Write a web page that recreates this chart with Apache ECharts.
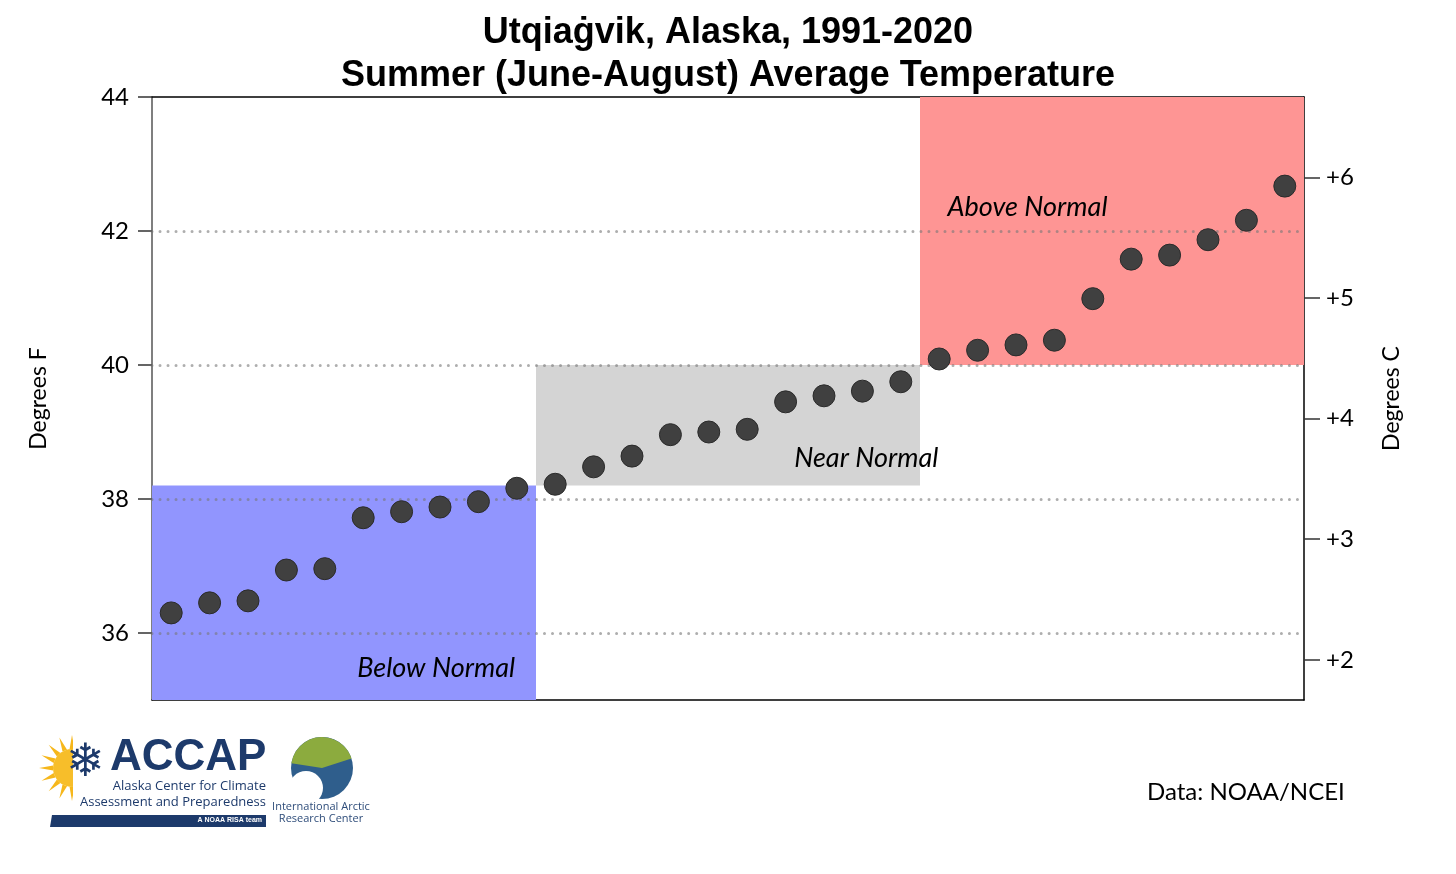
<!DOCTYPE html>
<html>
<head>
<meta charset="utf-8">
<script src="https://cdn.jsdelivr.net/npm/echarts@6/dist/echarts.min.js"></script>
<style>
html,body{margin:0;padding:0;background:#fff;}
#chart{width:1456px;height:874px;}
</style>
</head>
<body>
<div id="chart"></div>
<script>
// ---- data ----
const years = Array.from({length:30},(_, i)=>String(i+1)); // 30 summers 1991-2020, ranked
const summerTempF = [36.30,36.45,36.48,36.94,36.96,37.72,37.81,37.88,37.96,38.16,
                     38.22,38.48,38.64,38.96,39.00,39.04,39.45,39.54,39.61,39.75,
                     40.09,40.22,40.30,40.37,40.99,41.58,41.64,41.87,42.16,42.67];
const zoneNames = ['Below Normal','Near Normal','Above Normal'];
const zoneStartRank = [0,10,20];
const zoneEndRank = [10,20,30];
const zoneLowF = [35,38.2,40];
const zoneHighF = [38.2,40,44];
const fTicks = [36,38,40,42,44];
const fGrid = [36,38,40,42];
const cTicks = [2,3,4,5,6];
const yMinF = 35, yMaxF = 44;

// ---- styles ----
const zoneColors = ['#9195fe','#d4d4d4','#fe9594'];
const zoneLabelPos = [['74%','85%'],['86%','77%'],['28%','41%']];
const font = 'Lato, "Open Sans", sans-serif';

const chart = echarts.init(document.getElementById('chart'));
const fToC = f => (f-32)/1.8;

const option = {
  animation:false,
  backgroundColor:'#fff',
  title:{
    text:'Utqiaġvik, Alaska, 1991-2020\nSummer (June-August) Average Temperature',
    left:'center', top:7,
    textStyle:{fontFamily:'"Liberation Sans", Arial, sans-serif',fontWeight:'bold',fontSize:36,lineHeight:43,color:'#000'}
  },
  grid:{left:152,right:152,top:97,bottom:174},
  xAxis:[
    {type:'category',data:years,boundaryGap:true,position:'bottom',
     axisLine:{show:true,lineStyle:{color:'#000',width:1.5}},
     axisTick:{show:false},axisLabel:{show:false},splitLine:{show:false}},
    {type:'value',min:0,max:30,position:'top',
     axisLine:{show:true,onZero:false,lineStyle:{color:'#000',width:1.5}},
     axisTick:{show:false},axisLabel:{show:false},splitLine:{show:false}}
  ],
  yAxis:[
    {type:'value',min:yMinF,max:yMaxF,interval:1,position:'left',
     name:'Degrees F',nameLocation:'middle',nameRotate:90,nameGap:102,
     nameTextStyle:{fontFamily:font,fontSize:23,color:'#000'},
     axisLine:{show:true,lineStyle:{color:'#555',width:1.5}},
     axisTick:{show:true,length:14,customValues:fTicks,lineStyle:{color:'#333',width:1.5}},
     axisLabel:{customValues:fTicks,fontFamily:font,fontSize:24,color:'#000',margin:23},
     splitLine:{show:false}},
    {type:'value',min:fToC(yMinF),max:fToC(yMaxF),position:'right',
     name:'Degrees C',nameLocation:'middle',nameRotate:90,nameGap:76,
     nameTextStyle:{fontFamily:font,fontSize:23,color:'#000'},
     axisLine:{show:true,lineStyle:{color:'#000',width:1.5}},
     axisTick:{show:true,length:16,customValues:cTicks,lineStyle:{color:'#333',width:1.5}},
     axisLabel:{customValues:cTicks,formatter:v=>'+'+v,fontFamily:font,fontSize:24,color:'#000',margin:22},
     splitLine:{show:false}}
  ],
  series:[
    {
      name:'zones',type:'scatter',xAxisIndex:1,yAxisIndex:0,
      data:[[0,yMinF]],symbolSize:0,silent:true,z:1,
      markArea:{
        silent:true,
        data:zoneNames.map((n,i)=>[
          {name:n,xAxis:zoneStartRank[i],yAxis:zoneHighF[i],
           itemStyle:{color:zoneColors[i],opacity:1},
           label:{show:true,position:zoneLabelPos[i],align:'center',verticalAlign:'middle',
                  fontFamily:font,fontStyle:'italic',fontSize:27,color:'#000'}},
          {xAxis:zoneEndRank[i],yAxis:zoneLowF[i]}
        ])
      }
    },
    {
      name:'grid',type:'scatter',xAxisIndex:1,yAxisIndex:0,
      data:[[0,yMinF]],symbolSize:0,silent:true,z:3,
      markLine:{
        silent:true,symbol:'none',label:{show:false},
        lineStyle:{color:'rgba(120,120,120,0.6)',width:3,type:[0.01,8],cap:'round'},
        data:fGrid.map(v=>({yAxis:v}))
      }
    },
    {
      name:'Summer average',type:'scatter',xAxisIndex:0,yAxisIndex:0,
      data:summerTempF,symbol:'circle',symbolSize:22,z:5,
      itemStyle:{color:'#404040',borderColor:'#2b2b2b',borderWidth:1,opacity:1}
    }
  ],
  graphic:[
    // ACCAP logo (approximation)
    {type:'group',children:Array.from({length:9},(_, k)=>{
      const a = Math.PI/2 + k*Math.PI/8;
      const cx=72, cy=768;
      return {type:'polygon',shape:{points:[
        [cx+Math.cos(a-0.13)*19, cy-Math.sin(a-0.13)*19],
        [cx+Math.cos(a)*33, cy-Math.sin(a)*33],
        [cx+Math.cos(a+0.13)*19, cy-Math.sin(a+0.13)*19]]},style:{fill:'#f6b71b'}};
    })},
    {type:'circle',shape:{cx:72,cy:768,r:19},style:{fill:'#f7be2a'}},
    {type:'rect',shape:{x:73,y:730,width:36,height:80},style:{fill:'#fff'}},
    {type:'text',x:66,y:741,style:{text:'❄',fontSize:46,fill:'#1d3a6b',fontFamily:'"DejaVu Sans"'}},
    {type:'text',x:110,y:736,style:{text:'ACCAP',fontSize:44,fontWeight:'bold',fill:'#1d3a6b',fontFamily:'"Liberation Sans", Arial, sans-serif'}},
    {type:'text',x:266,y:780,style:{text:'Alaska Center for Climate',fontSize:13,fill:'#1d3a6b',fontFamily:'"Open Sans", sans-serif',align:'right'}},
    {type:'text',x:266,y:796,style:{text:'Assessment and Preparedness',fontSize:13,fill:'#1d3a6b',fontFamily:'"Open Sans", sans-serif',align:'right'}},
    {type:'polygon',shape:{points:[[52,815],[266,815],[266,827],[50,827]]},style:{fill:'#1d3a6b'}},
    {type:'text',x:262,y:817,style:{text:'A NOAA RISA team',fontSize:7,fontWeight:'bold',fill:'#fff',fontFamily:'"Liberation Sans", sans-serif',align:'right'}},
    // IARC logo (approximation)
    {type:'circle',shape:{cx:322,cy:768,r:31},style:{fill:'#2f5e8c'}},
    {type:'sector',shape:{cx:322,cy:768,r:31,r0:0,startAngle:Math.PI*1.05,endAngle:Math.PI*1.9},style:{fill:'#8cab3e'}},
    {type:'circle',shape:{cx:306,cy:788,r:17},style:{fill:'#fff'}},
    {type:'text',x:321,y:801,style:{text:'International Arctic',fontSize:11,fill:'#2f4d7a',fontFamily:'"Open Sans", sans-serif',align:'center'}},
    {type:'text',x:321,y:813,style:{text:'Research Center',fontSize:11,fill:'#2f4d7a',fontFamily:'"Open Sans", sans-serif',align:'center'}},
    // source
    {type:'text',x:1147,y:780,style:{text:'Data: NOAA/NCEI',fontSize:24,fill:'#000',fontFamily:font}}
  ]
};
chart.setOption(option);
</script>
</body>
</html>
